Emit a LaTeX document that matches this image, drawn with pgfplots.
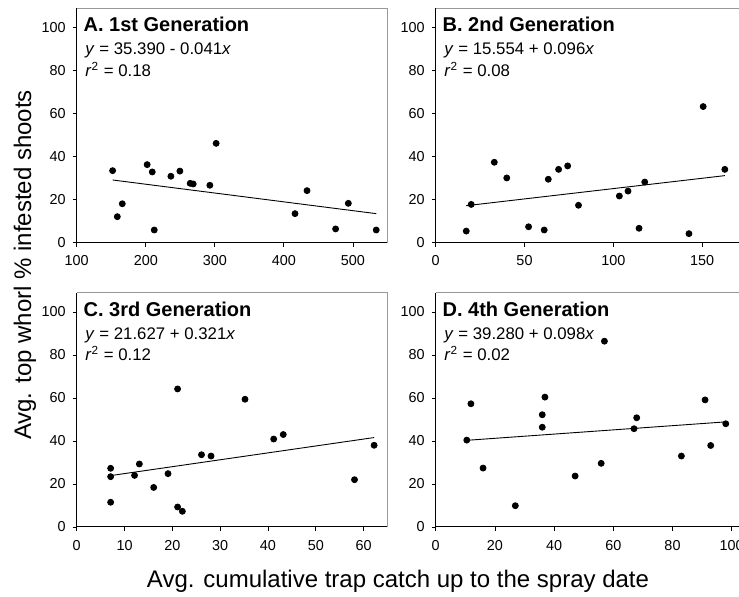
\documentclass[border=0pt]{standalone}
\usepackage{fontspec}
\setmainfont{Liberation Sans}
\usepackage{pgfplots}
\pgfplotsset{compat=1.18}

% one reference pixel = 0.5pt
\pgfplotsset{
  panel/.style={
    width=155.4pt, height=117.2pt, scale only axis,
    ymin=0, ymax=109, ytick={0,20,40,60,80,100},
    axis x line*=bottom, axis y line*=left,
    axis line style={-, black, line width=0.5pt},
    tick align=outside, major tick length=2pt,
    tick style={black, line width=0.4pt},
    xtick pos=bottom, ytick pos=left,
    /pgf/number format/assume math mode=true,
    ticklabel style={font=\fontsize{7.2}{8}\selectfont},
    xticklabel style={yshift=-1pt},
    clip=false,
  },
  pts/.style={only marks, mark=*, mark size=1.5pt, black},
  fit/.style={black, line width=0.45pt, no marks},
}
\newcommand{\frametop}{\draw[gray!80, line width=0.4pt] (rel axis cs:0,1) -- (rel axis cs:1,1) -- (rel axis cs:1,0);}
\newcommand{\ptitle}[3]{%
  \node[anchor=base west, inner sep=0pt, font=\bfseries\fontsize{10}{12}\selectfont] at (rel axis cs:0.021,0.900) {#1};
  \node[anchor=base west, inner sep=0pt, font=\fontsize{8.4}{9}\selectfont] at (rel axis cs:0.027,0.801) {\textit{y} = #2\textit{x}};
  \node[anchor=base west, inner sep=0pt, font=\fontsize{8.4}{9}\selectfont] at (rel axis cs:0.027,0.711) {\textit{r}\textsuperscript{2} = #3};}

\begin{document}
\begin{tikzpicture}
\useasboundingbox (0,0) rectangle (369.5pt,-298.5pt);
\clip (0,0) rectangle (369.5pt,-298.5pt);

% A. 1st generation
\begin{axis}[panel, at={(38.35pt,-121.35pt)}, anchor=south west,
  xmin=100, xmax=550, xtick={100,200,300,400,500}]
\addplot[pts] coordinates {(152,33.5)(158.8,12.1)(166,18.1)(202,36.3)(209.4,32.9)(212.3,5.9)
  (236.4,30.9)(249.4,33.3)(264.3,27.6)(268.7,27.3)(292.8,26.7)(301.9,46.2)
  (416.1,13.5)(433.5,24.2)(474.9,6.4)(493.3,18.3)(533.7,5.9)};
\addplot[fit] coordinates {(152,29.158)(533.7,13.508)};
\frametop
\ptitle{A. 1st Generation}{35.390 - 0.041}{0.18}
\end{axis}

% B. 2nd generation
\begin{axis}[panel, at={(217.85pt,-121.35pt)}, anchor=south west,
  xmin=0, xmax=175, xtick={0,50,100,150}]
\addplot[pts] coordinates {(17.2,5.4)(20.0,17.8)(33.0,37.4)(40.0,30.1)(52.3,7.4)(61.1,5.9)
  (63.4,29.5)(69.2,34.1)(74.3,35.7)(80.4,17.4)(103.4,21.7)(108.3,24.0)
  (114.5,6.7)(117.7,28.2)(142.6,4.2)(150.6,63.3)(162.8,34.1)};
\addplot[fit] coordinates {(17.2,17.205)(162.8,31.183)};
\frametop
\ptitle{B. 2nd Generation}{15.554 + 0.096}{0.08}
\end{axis}

% C. 3rd generation
\begin{axis}[panel, at={(38.35pt,-263.5pt)}, anchor=south west,
  xmin=0, xmax=65, xtick={0,10,20,30,40,50,60}]
\addplot[pts] coordinates {(7.1,27.3)(7.1,23.4)(7.1,11.5)(12.1,24.0)(13.1,29.3)(16.1,18.4)
  (19.1,24.8)(21.1,64.2)(21.1,9.3)(22.1,7.3)(26.1,33.6)(28.1,33.0)
  (35.2,59.4)(41.2,40.9)(43.2,43.0)(58.1,22.0)(62.2,38.0)};
\addplot[fit] coordinates {(7.1,23.906)(62.2,41.593)};
\frametop
\ptitle{C. 3rd Generation}{21.627 + 0.321}{0.12}
\end{axis}

% D. 4th generation
\begin{axis}[panel, at={(217.85pt,-263.5pt)}, anchor=south west,
  xmin=0, xmax=105, xtick={0,20,40,60,80,100}]
\addplot[pts] coordinates {(10.5,40.4)(11.9,57.3)(16.0,27.4)(26.9,9.9)(36.0,46.4)(36.0,52.2)
  (36.9,60.4)(47.1,23.7)(55.9,29.6)(57.0,86.4)(67.0,45.7)(67.9,50.8)
  (83.0,33.0)(91.0,59.1)(92.9,37.9)(98.0,48.0)};
\addplot[fit] coordinates {(10.5,40.309)(98,48.884)};
\frametop
\ptitle{D. 4th Generation}{39.280 + 0.098}{0.02}
\end{axis}

\node[rotate=90, anchor=center, font=\fontsize{12}{14}\selectfont] at (12.5pt,-132.5pt) {Avg. top whorl \% infested shoots};
\node[anchor=base, font=\fontsize{12}{14}\selectfont] at (199pt,-294pt) {Avg. cumulative trap catch up to the spray date};
\end{tikzpicture}
\end{document}
